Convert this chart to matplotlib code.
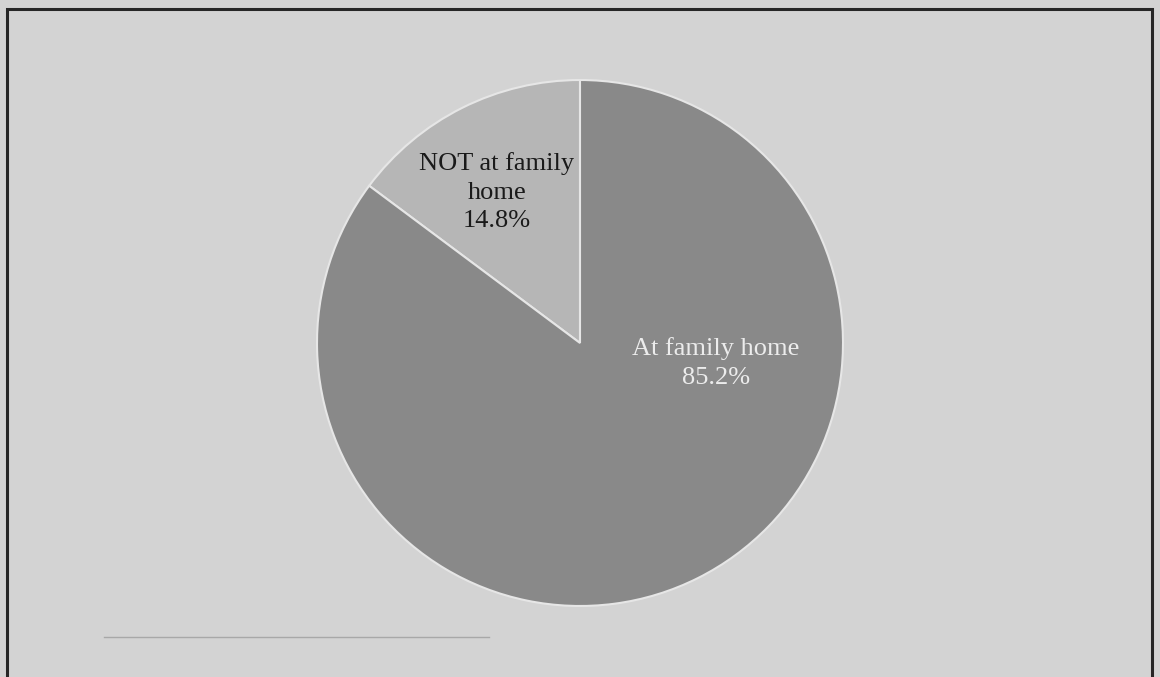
import matplotlib
matplotlib.use("Agg")
import matplotlib.pyplot as plt
from matplotlib.patches import Rectangle
from matplotlib.lines import Line2D

# Share of respondents by place of residence
labels = ["NOT at family\nhome", "At family home"]
shares = [14.8, 85.2]
colors = ["#b6b6b6", "#898989"]
text_colors = ["#1a1a1a", "#ececec"]

plt.rcParams["font.family"] = ["Liberation Serif", "DejaVu Serif"]

fig = plt.figure(figsize=(11.6, 6.77), dpi=100)
fig.patch.set_facecolor("#d3d3d3")

# Frame around the chart (runs off the bottom of the scan)
fig.add_artist(Rectangle((7 / 1160, -0.05), 1145 / 1160, 1.05 - 9 / 677,
                         transform=fig.transFigure, fill=False,
                         edgecolor="#262626", linewidth=2.2))

# Faint footnote rule bleeding through from the page
fig.add_artist(Line2D([104 / 1160, 489 / 1160], [1 - 637 / 677, 1 - 637 / 677],
                      transform=fig.transFigure, color="#a8a8a8", linewidth=1))

ax = fig.add_axes([317 / 1160, 71 / 677, 526 / 1160, 526 / 677])
ax.set_facecolor("none")

wedges, _ = ax.pie(shares, colors=colors, startangle=90, counterclock=True,
                   radius=1, wedgeprops=dict(edgecolor="#e6e6e6", linewidth=1.5))

# Label positions inside each slice
label_pos = [(-0.316, 0.574), (0.517, -0.076)]
for lab, val, (x, y), tc in zip(labels, shares, label_pos, text_colors):
    ax.text(x, y, f"{lab}\n{val:.1f}%", ha="center", va="center",
            fontsize=19, color=tc, linespacing=1.4)

ax.set_xlim(-1, 1)
ax.set_ylim(-1, 1)
ax.set_aspect("equal")
ax.axis("off")

fig.savefig("out.png", dpi=100, facecolor=fig.get_facecolor())
